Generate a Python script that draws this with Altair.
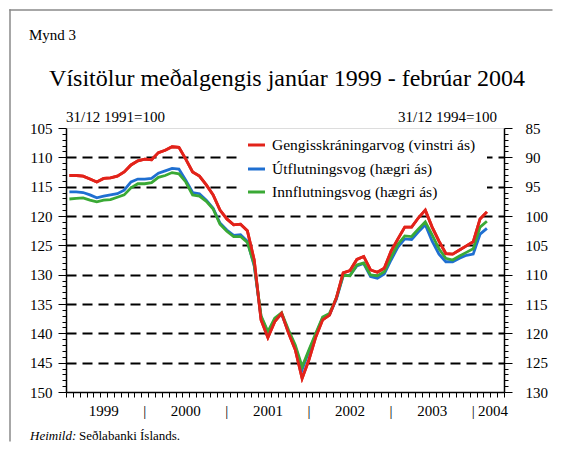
import altair as alt
import pandas as pd

# ---------------- data ----------------
# monthly, January 1999 .. February 2004
month_index = list(range(62))

# Gengisskráningarvog, left axis (31/12 1991=100)
gengi = [113.1, 113.1, 113.2, 113.7, 114.2, 113.6, 113.5, 113.2, 112.5, 111.3, 110.6, 110.3,
         110.4, 109.2, 108.8, 108.2, 108.3, 110.3, 112.5, 113.2, 114.7, 116.4, 119.0, 120.5,
         121.5, 121.4, 122.5, 127.5, 137.7, 140.7, 138.0, 136.6, 139.9, 142.8, 147.7, 144.5,
         140.6, 137.7, 136.9, 134.0, 129.7, 129.3, 127.4, 126.9, 129.2, 129.6, 128.9, 126.0,
         123.9, 121.9, 121.9, 120.3, 119.0, 121.9, 124.3, 126.4, 126.5, 125.8, 125.1, 124.4,
         120.5, 119.3]

# Útflutningsvog, right axis (31/12 1994=100)
utfl = [95.9, 95.9, 96.0, 96.4, 96.9, 96.6, 96.4, 96.2, 95.6, 94.2, 93.7, 93.7,
        93.6, 92.7, 92.3, 91.9, 92.0, 93.9, 96.0, 96.2, 97.3, 98.7, 101.2, 102.4,
        103.3, 103.2, 104.3, 108.5, 117.2, 119.9, 117.6, 116.7, 119.6, 122.3, 126.2, 123.0,
        120.2, 117.4, 116.8, 114.2, 110.2, 110.1, 108.5, 108.1, 110.3, 110.6, 109.9, 107.5,
        105.3, 103.9, 104.0, 102.7, 101.5, 104.3, 106.5, 107.8, 107.8, 107.2, 106.7, 106.5,
        103.1, 102.1]

# Innflutningsvog, right axis (31/12 1994=100)
innfl = [97.1, 97.0, 96.9, 97.3, 97.6, 97.3, 97.2, 96.8, 96.4, 95.2, 94.5, 94.5,
         94.3, 93.4, 93.1, 92.6, 92.8, 94.2, 96.4, 96.6, 97.5, 98.8, 101.4, 102.6,
         103.5, 103.5, 104.5, 108.3, 117.0, 119.7, 117.4, 116.5, 119.4, 122.0, 125.7, 122.8,
         120.0, 117.2, 116.6, 114.0, 110.1, 110.2, 108.35, 108.0, 110.05, 110.2, 109.5, 107.0,
         104.8, 103.4, 103.5, 102.2, 101.0, 103.2, 105.6, 107.2, 107.5, 106.8, 106.2, 105.6,
         101.9, 100.9]

series_names = ["Gengisskráningarvog (vinstri ás)", "Útflutningsvog (hægri ás)",
                "Innflutningsvog (hægri ás)"]
year_labels = ["1999", "2000", "2001", "2002", "2003", "2004"]
year_label_pos = [5.5, 17.5, 29.5, 41.5, 53.5, 62.4]
year_sep_pos = [11.5, 23.5, 35.5, 47.5, 59.5]

left_ticks = list(range(105, 151))
right_ticks = list(range(85, 131))
month_ticks = list(range(0, 65))

# ---------------- styling ----------------
FONT = "Liberation Serif"
RED = "#e2231a"
BLUE = "#1f6fd1"
GREEN = "#3aa935"

W, H = 438, 264

x_scale = alt.Scale(domain=[0, 64], nice=False, zero=False)
x_axis = alt.Axis(values=month_ticks, labels=False, title=None, grid=False,
                  tickSize=5, tickColor="black", tickWidth=1,
                  domainColor="black", domainWidth=1.5)
X = alt.X("m:Q", scale=x_scale, axis=x_axis)

major5 = "datum.value % 5 === 0"
left_axis = alt.Axis(
    orient="left", values=left_ticks, title=None,
    labelExpr=f"{major5} ? datum.label : ''", labelOverlap=False,
    labelFont=FONT, labelFontSize=15, labelColor="black", labelPadding=6,
    tickSize={"condition": {"test": major5, "value": 8}, "value": 4},
    tickColor="black", tickWidth=1,
    domainColor="black", domainWidth=1.5,
    grid=True, gridColor="black", gridWidth=2, gridDash=[10, 6],
    gridOpacity={"condition": {"test": f"{major5} && datum.value > 105 && datum.value < 150",
                               "value": 1}, "value": 0},
)
right_axis = alt.Axis(
    orient="right", values=right_ticks, title=None,
    labelExpr=f"{major5} ? datum.label : ''", labelOverlap=False,
    labelFont=FONT, labelFontSize=15, labelColor="black", labelPadding=13,
    tickSize={"condition": {"test": major5, "value": 8}, "value": 4},
    tickColor="black", tickWidth=1,
    domainColor="black", domainWidth=1.5, grid=False,
)

y_left_scale = alt.Scale(domain=[105, 150], reverse=True, nice=False, zero=False)
y_right_scale = alt.Scale(domain=[85, 130], reverse=True, nice=False, zero=False)

mid = [m + 0.5 for m in month_index]
df_red = pd.DataFrame({"m": mid, "v": gengi})
df_blue = pd.DataFrame({"m": mid, "v": utfl})
df_green = pd.DataFrame({"m": mid, "v": innfl})
one = pd.DataFrame({"k": [0]})

red_base = alt.Chart(df_red).mark_line(color=RED, strokeWidth=2.8).encode(
    x=X, y=alt.Y("v:Q", scale=y_left_scale, axis=left_axis))

legend_box = alt.Chart(one).mark_rect(color="white").encode(
    x=alt.value(171), x2=alt.value(421), y=alt.value(4), y2=alt.value(72))

group_left = alt.layer(red_base, legend_box)

blue_line = alt.Chart(df_blue).mark_line(color=BLUE, strokeWidth=2.8).encode(
    x=X, y=alt.Y("v:Q", scale=y_right_scale, axis=right_axis))
green_line = alt.Chart(df_green).mark_line(color=GREEN, strokeWidth=2.8).encode(
    x=X, y=alt.Y("v:Q", scale=y_right_scale, axis=right_axis))
group_right = alt.layer(blue_line, green_line)

red_top = alt.Chart(df_red).mark_line(color=RED, strokeWidth=2.8).encode(
    x=X, y=alt.Y("v:Q", scale=y_left_scale, axis=None))


def txt(text, x, y, size=15, align="left", baseline="alphabetic", style="normal"):
    return alt.Chart(one).mark_text(
        text=text, font=FONT, fontSize=size, align=align, baseline=baseline,
        fontStyle=style, color="black"
    ).encode(x=alt.value(x), y=alt.value(y))


# outer figure frame (left and top edges only), as thin filled bars inside the canvas
frame_top = alt.Chart(one).mark_rect(color="#8a8a8a").encode(
    x=alt.value(-56.75), x2=alt.value(486.5), y=alt.value(-118.75), y2=alt.value(-117.25))
frame_left = alt.Chart(one).mark_rect(color="#8a8a8a").encode(
    x=alt.value(-56.75), x2=alt.value(-55.25), y=alt.value(-118.75), y2=alt.value(313.5))

legend_layers = []
for i, (name, col) in enumerate(zip(series_names, [RED, BLUE, GREEN])):
    ly = [17, 41, 64][i]
    legend_layers.append(
        alt.Chart(one).mark_rule(color=col, strokeWidth=3).encode(
            x=alt.value(182), x2=alt.value(199), y=alt.value(ly)))
    legend_layers.append(txt(name, 206, ly, size=15.5, baseline="middle"))

df_years = pd.DataFrame({"m": year_label_pos, "lab": year_labels})
df_seps = pd.DataFrame({"m": year_sep_pos})
years = alt.Chart(df_years).mark_text(font=FONT, fontSize=15, align="center",
                                      baseline="alphabetic", color="black").encode(
    x=X, y=alt.value(288), text="lab:N")
seps = alt.Chart(df_seps).mark_text(text="|", font=FONT, fontSize=15, align="center",
                                    baseline="alphabetic", color="black").encode(
    x=X, y=alt.value(288))

texts = [
    txt("Mynd 3", -37, -88, size=15),
    txt("Vísitölur meðalgengis janúar 1999 - febrúar 2004", 221, -42, size=24, align="center"),
    txt("31/12 1991=100", 0, -6, size=15),
    txt("31/12 1994=100", 431, -6, size=15, align="right"),
    txt("Heimild:", -36, 312, size=13, style="italic"),
    txt("Seðlabanki Íslands.", 13, 312, size=13),
]

group_top = alt.layer(red_top, frame_top, frame_left, years, seps, *legend_layers, *texts)

chart = alt.layer(group_left, group_right, group_top).resolve_scale(
    y="independent"
).properties(
    width=W, height=H,
    autosize=alt.AutoSizeParams(type="none"),
    padding={"left": 58, "top": 120, "right": 49, "bottom": 50},
).configure_view(stroke="black", strokeWidth=1.5).configure(background="white")

chart.save("out.html", embed_options={"renderer": "svg", "actions": False})
